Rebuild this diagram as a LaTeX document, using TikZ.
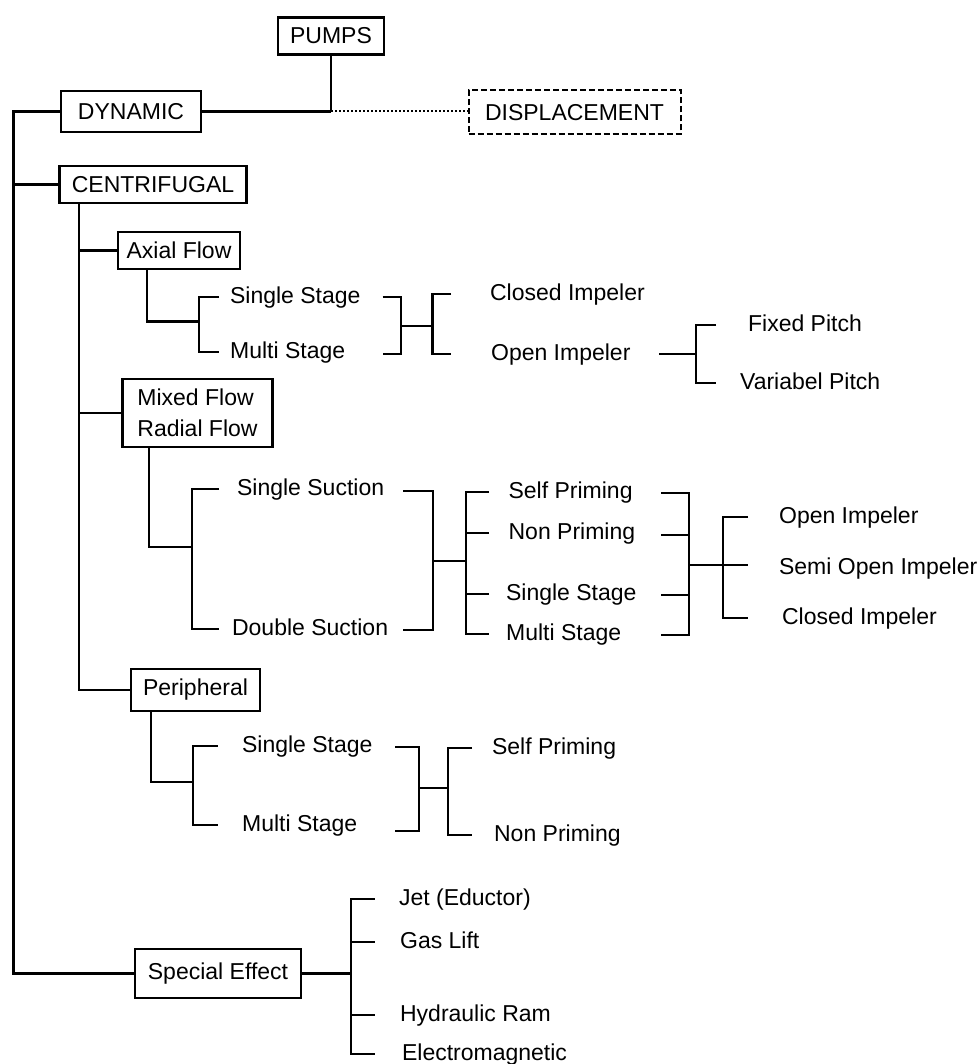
\documentclass[tikz,border=0pt]{standalone}
\usepackage{fontspec}
\setmainfont{Liberation Sans}
\begin{document}
\begin{tikzpicture}[x=1pt,y=-1pt, line width=2.2pt,
  box/.style={draw, inner sep=0pt, font=\fontsize{23}{27}\selectfont},
  dbox/.style={box, line width=2pt, dash pattern=on 6pt off 3pt},
  lbl/.style={anchor=west, inner sep=0pt, text height=16.5pt, text depth=4.5pt, font=\fontsize{23}{27}\selectfont},
  dotline/.style={dash pattern=on 2pt off 2pt, line width=2pt}]
\fill[white] (0,0) rectangle (977,1064);
\useasboundingbox (0,0) rectangle (977,1064);

% boxes
\node[box, minimum width=106pt, minimum height=37pt] (pumps) at (331,36) {PUMPS};
\node[box, minimum width=140pt, minimum height=41pt] (dyn) at (131,111.5) {DYNAMIC};
\node[dbox, minimum width=212pt, minimum height=44pt] (disp) at (574.5,112.5) {DISPLACEMENT};
\node[box, minimum width=187pt, minimum height=37pt] (cent) at (153,184.5) {CENTRIFUGAL};
\node[box, minimum width=122pt, minimum height=37.5pt] (axial) at (179,250.5) {Axial Flow};
\node[box, minimum width=150pt, minimum height=68pt, align=left, font=\fontsize{23}{31}\selectfont] (mixed) at (197.5,413) {Mixed Flow\\Radial Flow};
\node[box, minimum width=129pt, minimum height=42pt] (peri) at (195.5,690) {Peripheral};
\node[box, minimum width=166pt, minimum height=49pt] (spec) at (218,973.5) {Special Effect};

% labels: axial
\node[lbl] (as1) at (229,297) {Single Stage};
\node[lbl] (am1) at (229,352) {Multi Stage};
\node[lbl] (ci1) at (489,294) {Closed Impeler};
\node[lbl] (oi1) at (490,354) {Open Impeler};
\node[lbl] (fp) at (747,325) {Fixed Pitch};
\node[lbl] (vp) at (739,383) {Variabel Pitch};
% labels: mixed
\node[lbl] (ss) at (236,489) {Single Suction};
\node[lbl] (ds) at (231,629) {Double Suction};
\node[lbl] (sp) at (507.5,492) {Self Priming};
\node[lbl] (np) at (507.5,533) {Non Priming};
\node[lbl] (sst) at (505,594) {Single Stage};
\node[lbl] (mst) at (505,634) {Multi Stage};
\node[lbl] (oi2) at (778,517) {Open Impeler};
\node[lbl] (so2) at (778,568) {Semi Open Impeler};
\node[lbl] (ci2) at (781,618) {Closed Impeler};
% labels: peripheral
\node[lbl] (ps) at (241,746) {Single Stage};
\node[lbl] (pm) at (241,825) {Multi Stage};
\node[lbl] (psp) at (491,748) {Self Priming};
\node[lbl] (pnp) at (493,835) {Non Priming};
% labels: special
\node[lbl] (jet) at (398,899) {Jet (Eductor)};
\node[lbl] (gas) at (399,942) {Gas Lift};
\node[lbl] (hyd) at (399,1015) {Hydraulic Ram};
\node[lbl] (elec) at (401,1054) {Electromagnetic};

% top connections
\coordinate (j0) at (pumps.south |- dyn.east);
\draw (pumps.south) -- (j0);
\draw (dyn.east) -- (j0);
\draw[dotline] (j0) -- (j0 -| disp.west);

% main trunk
\coordinate (mtop) at (13.5,111.5);
\coordinate (mbot) at (13.5,973.5);
\draw (dyn.west) -- (mtop) -- (mbot) -- (spec.west);
\draw (cent.west) -- (cent.west -| mtop);

% centrifugal trunk
\coordinate (v2) at (79,690);
\draw (cent.south -| v2) -- (v2) -- (peri.west);
\draw (axial.west) -- (axial.west -| v2);
\draw (mixed.west) -- (mixed.west -| v2);

% axial subtree
\coordinate (ax1) at (147,321.5);
\coordinate (ax2) at (199,321.5);
\draw (axial.south -| ax1) -- (ax1) -- (ax2);
\draw ([xshift=-10pt]as1.west) -| (ax2) |- ([xshift=-10pt]am1.west);
\coordinate (ar1t) at (382.5,297);
\coordinate (ar1b) at (382.5,354);
\coordinate (ar1) at (401,326);
\coordinate (ar2) at (432.5,326);
\draw (ar1t) -| (ar1) |- (ar1b);
\draw (ar1) -- (ar2);
\draw ([xshift=-38pt]ci1.west) -| (ar2) |- ([xshift=-39pt]oi1.west);
\coordinate (op0) at (659,354);
\coordinate (op1) at (696,354);
\draw (op0) -- (op1);
\draw ([xshift=-31pt]fp.west) -| (op1) |- ([xshift=-23pt]vp.west);

% mixed subtree
\coordinate (mx1) at (149,546.7);
\coordinate (mx2) at (192,546.7);
\draw (mixed.south -| mx1) -- (mx1) -- (mx2);
\draw ([xshift=-17pt]ss.west) -| (mx2) |- ([xshift=-12pt]ds.west);
\coordinate (mr1t) at (403,491);
\coordinate (mr1b) at (403,630);
\coordinate (mr1) at (433,561);
\coordinate (mr2) at (466,561);
\draw (mr1t) -| (mr1) |- (mr1b);
\draw (mr1) -- (mr2);
\draw ([xshift=-18.5pt]sp.west) -| (mr2) |- ([xshift=-16pt]mst.west);
\draw ([xshift=-18.5pt]np.west) -- (np.west -| mr2);
\draw ([xshift=-16pt]sst.west) -- (sst.west -| mr2);
\coordinate (mqa) at (661,493);
\coordinate (mqb) at (661,535);
\coordinate (mqc) at (661,595);
\coordinate (mqd) at (661,635);
\coordinate (mq1) at (689,565);
\coordinate (mq2) at (723,565);
\coordinate (mq3) at (748,565);
\draw (mqa) -| (mq1) |- (mqd);
\draw (mqb) -- (mqb -| mq1);
\draw (mqc) -- (mqc -| mq1);
\draw (mq1) -- (mq3);
\draw ([xshift=-30pt]oi2.west) -| (mq2) |- ([xshift=-33pt]ci2.west);

% peripheral subtree
\coordinate (pe1) at (151,781.7);
\coordinate (pe2) at (193,781.7);
\draw (peri.south -| pe1) -- (pe1) -- (pe2);
\draw ([xshift=-23.5pt]ps.west) -| (pe2) |- ([xshift=-23.5pt]pm.west);
\coordinate (pra) at (395,747);
\coordinate (prb) at (395,830.7);
\coordinate (pr1) at (419,787.7);
\coordinate (pr2) at (448,787.7);
\draw (pra) -| (pr1) |- (prb);
\draw (pr1) -- (pr2);
\draw ([xshift=-19pt]psp.west) -| (pr2) |- ([xshift=-21pt]pnp.west);

% special effect
\coordinate (se1) at (351,973.5);
\draw (spec.east) -- (se1);
\draw ([xshift=-23.5pt]jet.west) -| (se1) |- ([xshift=-26.5pt]elec.west);
\draw ([xshift=-24.5pt]gas.west) -- (gas.west -| se1);
\draw ([xshift=-24.5pt]hyd.west) -- (hyd.west -| se1);
\end{tikzpicture}
\end{document}
